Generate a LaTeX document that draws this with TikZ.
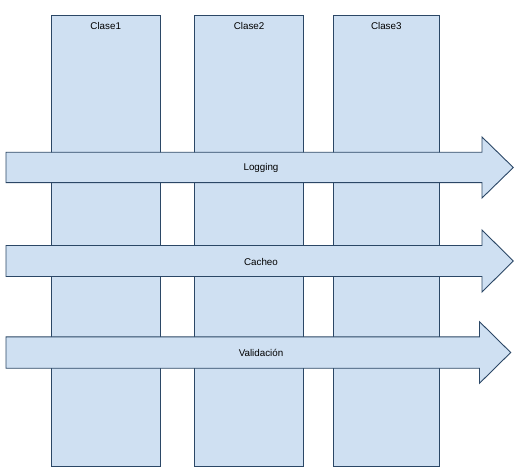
\documentclass[tikz,border=0pt]{standalone}
\usepackage{fontspec}
\setmainfont{Liberation Sans}
\definecolor{boxfill}{HTML}{CFE0F2}
\definecolor{boxline}{HTML}{2B4766}
\begin{document}
\begin{tikzpicture}[x=1pt,y=-1pt,
  shapebox/.style={draw=boxline,fill=boxfill,line width=0.9pt,line join=miter},
  lbl/.style={font=\fontsize{9.8}{11}\selectfont,inner sep=0pt}]
\useasboundingbox (0,0) rectangle (517,476);
% columns
\foreach \n/\xa/\xb in {1/51.5/160, 2/194.7/303.5, 3/333.5/439}{
  \draw[shapebox] (\xa,15) rectangle (\xb,466);
  \node[lbl] (clase\n) at ({(\xa+\xb)/2},26) {Clase\n};
}
% arrows
\draw[shapebox] (6,152.3) -- (482,152.3) -- (482,137) -- (513.3,167.5) -- (482,198) -- (482,182.7) -- (6,182.7) -- cycle;
\node[lbl] (logging) at (261,168) {Logging};
\draw[shapebox] (6,245.5) -- (482,245.5) -- (482,230) -- (513.3,261) -- (482,292) -- (482,276.5) -- (6,276.5) -- cycle;
\node[lbl] (cacheo) at (261,261.5) {Cacheo};
\draw[shapebox] (6,336.8) -- (479.5,336.8) -- (479.5,321.7) -- (510.7,352.5) -- (479.5,383.3) -- (479.5,368.2) -- (6,368.2) -- cycle;
\node[lbl] (validacion) at (261,353) {Validación};
\end{tikzpicture}
\end{document}
